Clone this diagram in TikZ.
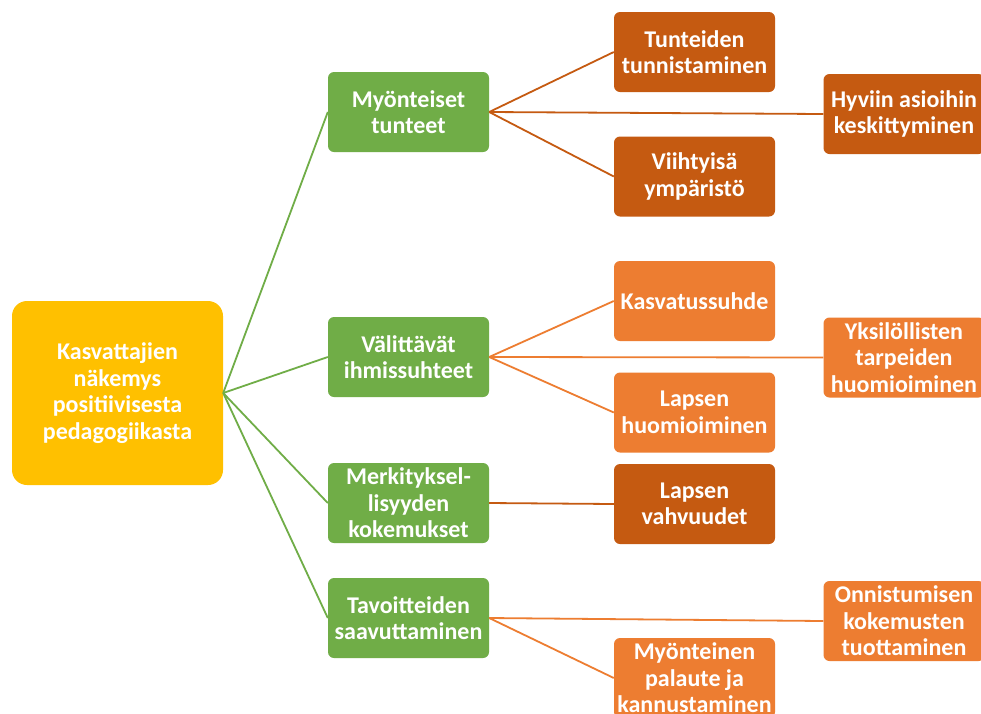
\documentclass[tikz,border=0pt]{standalone}
\usepackage{fontspec}
\setmainfont{Carlito}
\definecolor{cyellow}{HTML}{FFC000}
\definecolor{cgreen}{HTML}{70AD47}
\definecolor{cdark}{HTML}{C55A11}
\definecolor{clight}{HTML}{ED7D31}
\begin{document}
\begin{tikzpicture}[x=1pt,y=-1pt,
  box/.style={rounded corners=6pt, text=white, align=center,
    font=\fontsize{24}{26.5}\selectfont\bfseries, inner sep=0pt,
    minimum width=161pt, minimum height=80pt},
  rootbox/.style={box, fill=cyellow, rounded corners=15pt, minimum width=211pt, minimum height=184pt},
  gbox/.style={box, fill=cgreen},
  dbox/.style={box, fill=cdark},
  lbox/.style={box, fill=clight},
  gline/.style={draw=cgreen, line width=1.8pt},
  dline/.style={draw=cdark, line width=1.8pt},
  lline/.style={draw=clight, line width=1.8pt}]
\useasboundingbox (0,0) rectangle (981,713);
\fill[white] (0,0) rectangle (981,713);

\node[rootbox] (root) at (117.5,393) {Kasvattajien\\näkemys\\positiivisesta\\pedagogiikasta};

\node[gbox] (g1) at (408.5,112) {Myönteiset\\tunteet};
\node[gbox] (g2) at (408.5,357) {Välittävät\\ihmissuhteet};
\node[gbox] (g3) at (408.5,503) {Merkityksel-\\lisyyden\\kokemukset};
\node[gbox] (g4) at (408.5,618) {Tavoitteiden\\saavuttaminen};

\node[dbox] (m1) at (694.5,52) {Tunteiden\\tunnistaminen};
\node[dbox] (m2) at (694.5,176.5) {Viihtyisä\\ympäristö};
\node[lbox] (m3) at (694.5,301) {Kasvatussuhde};
\node[lbox] (m4) at (694.5,412.5) {Lapsen\\huomioiminen};
\node[dbox] (m5) at (694.5,504) {Lapsen\\vahvuudet};
\node[lbox] (m6) at (694.5,678) {Myönteinen\\palaute ja\\kannustaminen};

\node[dbox] (r1) at (904,114) {Hyviin asioihin\\keskittyminen};
\node[lbox] (r2) at (904,357.5) {Yksilöllisten\\tarpeiden\\huomioiminen};
\node[lbox] (r3) at (904,621) {Onnistumisen\\kokemusten\\tuottaminen};

\draw[gline] (root.east) -- (g1.west);
\draw[gline] (root.east) -- (g2.west);
\draw[gline] (root.east) -- (g3.west);
\draw[gline] (root.east) -- (g4.west);

\draw[dline] (g1.east) -- (m1.west);
\draw[dline] (g1.east) -- (m2.west);
\draw[dline] (g1.east) -- (r1.west);

\draw[lline] (g2.east) -- (m3.west);
\draw[lline] (g2.east) -- (m4.west);
\draw[lline] (g2.east) -- (r2.west);

\draw[dline] (g3.east) -- (m5.west);

\draw[lline] (g4.east) -- (m6.west);
\draw[lline] (g4.east) -- (r3.west);
\end{tikzpicture}
\end{document}
